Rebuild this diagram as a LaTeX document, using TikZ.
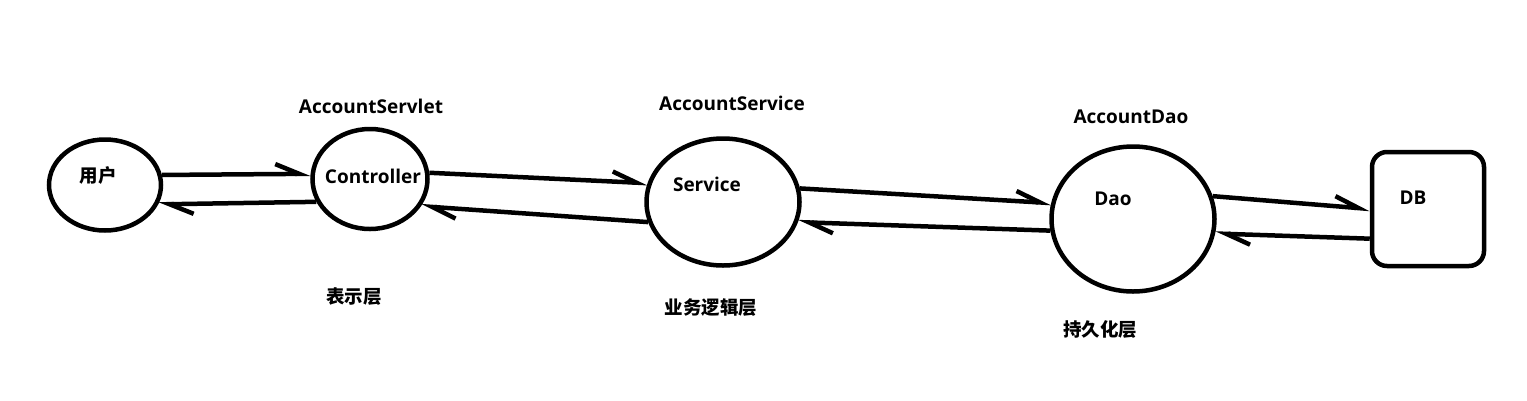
\documentclass[tikz,border=0pt]{standalone}
\usepackage{fontspec}
\setmainfont{Open Sans}
\newfontfamily\cjk{Noto Sans CJK SC}
\usetikzlibrary{shapes.geometric,arrows.meta,calc}
\tikzset{
  lbl/.style={font=\fontsize{19}{22}\selectfont\bfseries, inner sep=0pt},
  clbl/.style={font=\cjk\fontsize{18.5}{22}\selectfont\bfseries, inner sep=0pt},
  oval/.style={ellipse, draw, line width=4.5pt, inner sep=0pt},
  conn/.style={line width=4.5pt, -{Straight Barb[left, length=24pt, width=20pt, line width=4.5pt]}},
}
\begin{document}
\begin{tikzpicture}[x=1pt, y=-1pt]
\useasboundingbox (0,0) rectangle (1527,400);
% shapes
\node[oval, minimum width=112pt, minimum height=91pt] (user) at (105,185) {};
\node[oval, minimum width=115pt, minimum height=100pt] (ctrl) at (370,179) {};
\node[oval, minimum width=153pt, minimum height=127pt] (svc) at (723,202) {};
\node[oval, minimum width=163pt, minimum height=145pt] (dao) at (1133,219) {};
\node[draw, line width=4.5pt, rounded corners=15pt, minimum width=112pt, minimum height=114pt, inner sep=0pt] (db) at (1428,209) {};
% inner texts
\node[clbl] (tuser) at (98,175) {用户};
\node[lbl] (tctrl) at (373,176) {Controller};
\node[lbl] (tsvc) at (707,184) {Service};
\node[lbl] (tdao) at (1113,199) {Dao};
\node[lbl] (tdb) at (1413,198) {DB};
% top labels
\node[lbl] (lservlet) at (371,106) {AccountServlet};
\node[lbl] (lservice) at (732,103) {AccountService};
\node[lbl] (ldao) at (1131,117) {AccountDao};
% bottom labels
\node[clbl] (l1) at (354,297) {表示层};
\node[clbl] (l2) at (711,308) {业务逻辑层};
\node[clbl] (l3) at (1100,330) {持久化层};
% connectors
\draw[conn] (user.10) -- (ctrl.175);
\draw[conn] (ctrl.203) -- (user.-20);
\draw[conn] (ctrl.6) -- (svc.166);
\draw[conn] (svc.195) -- (ctrl.-28);
\draw[conn] (svc.10) -- (dao.169);
\draw[conn] (dao.188) -- (svc.-15);
\draw[conn] (dao.16) -- (db.west);
\draw[conn] (db.207) -- (dao.-10);
\end{tikzpicture}
\end{document}
